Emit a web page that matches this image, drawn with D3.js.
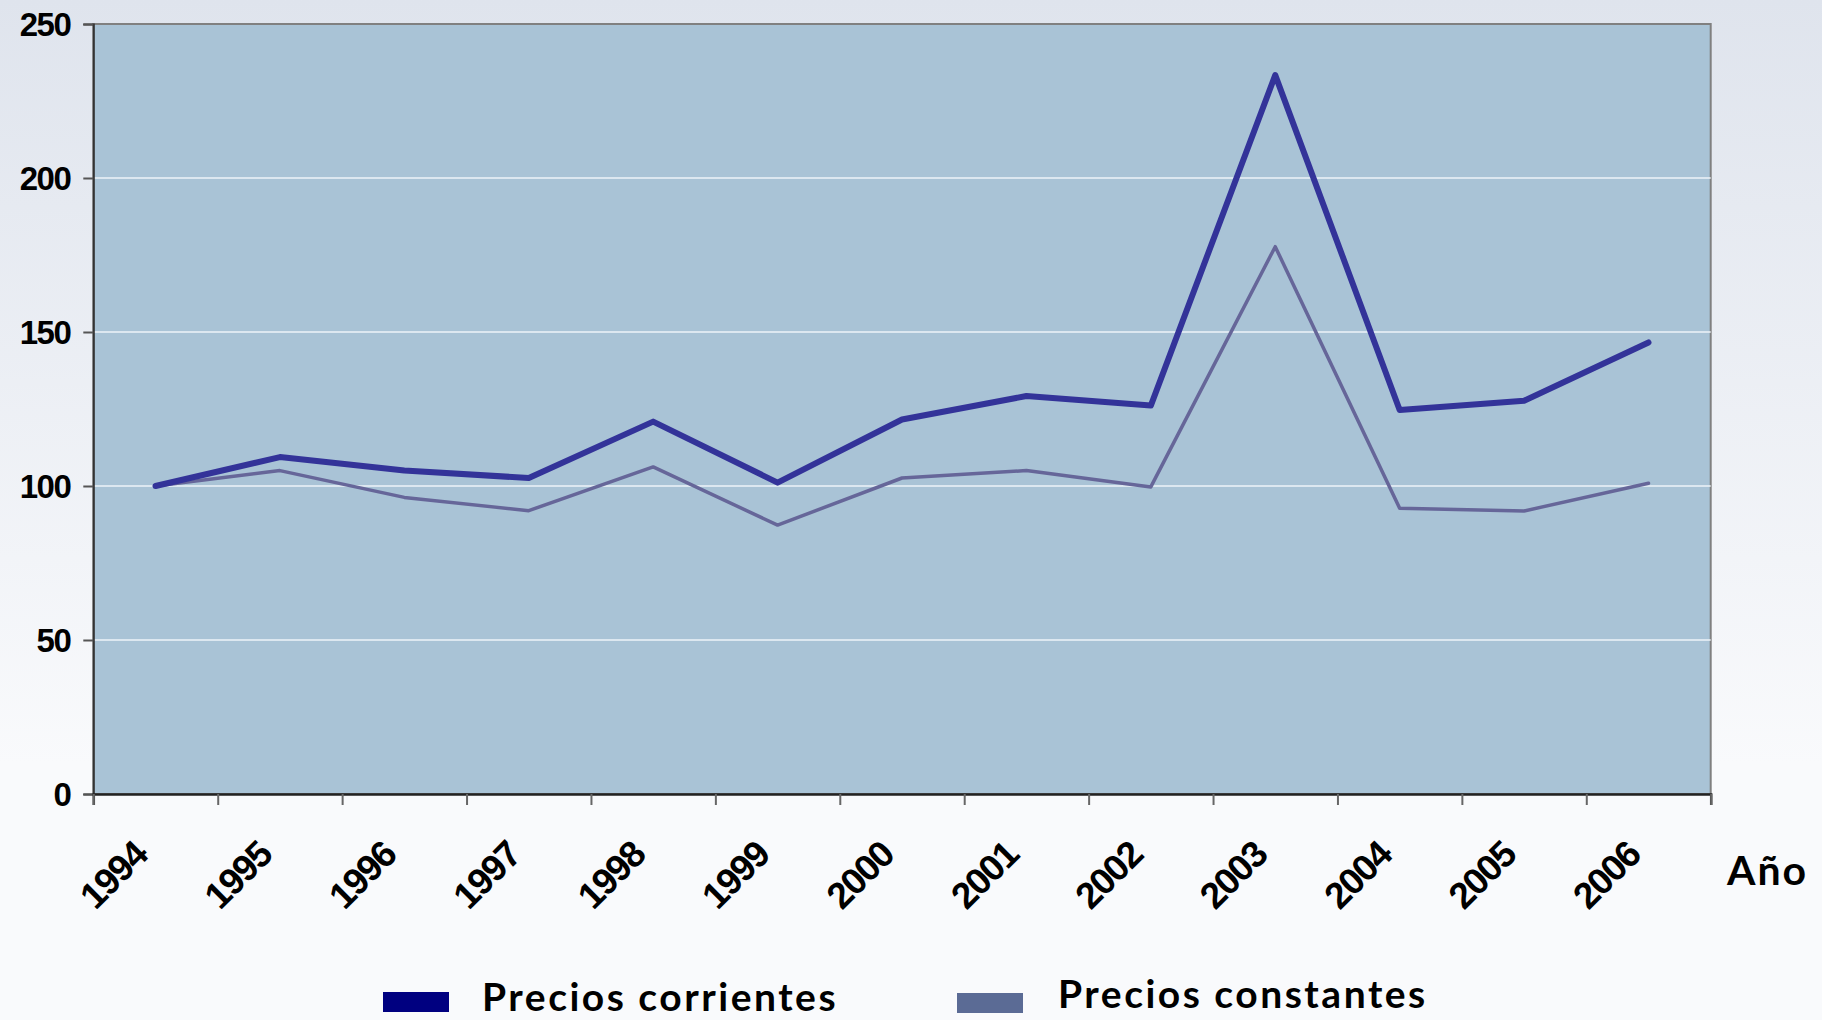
<!DOCTYPE html>
<html>
<head>
<meta charset="utf-8">
<script src="https://cdn.jsdelivr.net/npm/d3@7"></script>
<style>
  html, body { margin: 0; padding: 0; }
  body { width: 1822px; height: 1020px; overflow: hidden;
         background: linear-gradient(#dfe4ed, #f9fafc 75%); }
  .ylab text { font-family: "Liberation Sans", Arial, sans-serif; font-weight: bold; font-size: 33px; letter-spacing: -1.5px; fill: #000; }
  .xlab text { font-family: "Liberation Sans", Arial, sans-serif; font-weight: bold; font-size: 37px; letter-spacing: -1.5px; fill: #000; }
</style>
</head>
<body>
<svg id="chart"></svg>
<script>
// data
var years = ["1994","1995","1996","1997","1998","1999","2000","2001","2002","2003","2004","2005","2006"];
var corrientes = [100, 109.4, 105, 102.6, 120.9, 101.1, 121.6, 129.2, 126.1, 233.4, 124.7, 127.7, 146.6];
var constantes = [100, 105, 96.3, 92, 106.2, 87.3, 102.6, 105, 99.7, 177.7, 92.8, 91.9, 100.9];
var yTicks = [0, 50, 100, 150, 200, 250];
var seriesNames = ["Precios corrientes", "Precios constantes"];

var width = 1822, height = 1020;
var margin = {left: 93.3, right: 111.3, top: 24, bottom: 226};

var svg = d3.select("#chart").attr("width", width).attr("height", height);

var x = d3.scaleBand().domain(years).range([margin.left, width - margin.right]).padding(0);
var xi = d3.scaleLinear().domain([0, years.length]).range([margin.left, width - margin.right]);
var y = d3.scaleLinear().domain([0, 250]).range([height - margin.bottom, margin.top]);

// plot area
svg.append("rect")
  .attr("x", margin.left).attr("y", margin.top)
  .attr("width", width - margin.left - margin.right)
  .attr("height", height - margin.top - margin.bottom)
  .attr("fill", "#a9c3d6")
  .attr("stroke", "#808080").attr("stroke-width", 2);

// gridlines
svg.append("g").selectAll("line")
  .data(yTicks.filter(d => d > 0 && d < 250))
  .enter().append("line")
    .attr("x1", margin.left).attr("x2", width - margin.right)
    .attr("y1", d => y(d)).attr("y2", d => y(d))
    .attr("stroke", "#eef3f8").attr("stroke-width", 1.5);

// y axis
var yAxis = svg.append("g").attr("class", "ylab")
  .attr("transform", "translate(" + margin.left + ",0)")
  .call(d3.axisLeft(y).tickValues(yTicks).tickSize(10).tickPadding(13));
yAxis.select(".domain").attr("stroke", "#333").attr("stroke-width", 2);
yAxis.selectAll(".tick line").attr("stroke", "#555").attr("stroke-width", 2);
yAxis.selectAll("text").attr("dy", "0.36em");

// x axis tick marks at band edges
var xTickAxis = svg.append("g")
  .attr("transform", "translate(0," + y(0) + ")")
  .call(d3.axisBottom(xi).tickValues(d3.range(years.length + 1)).tickFormat("").tickSize(11));
xTickAxis.select(".domain").attr("stroke", "#222").attr("stroke-width", 2.5);
xTickAxis.selectAll(".tick line").attr("stroke", "#666").attr("stroke-width", 2);

// x labels
var xLab = svg.append("g").attr("class", "xlab")
  .attr("transform", "translate(0," + y(0) + ")")
  .call(d3.axisBottom(x).tickSize(0).tickPadding(0));
xLab.select(".domain").remove();
xLab.selectAll("text")
  .attr("text-anchor", "end")
  .attr("dy", 0)
  .attr("transform", "translate(-6,63) rotate(-45)");

svg.append("text")
  .attr("x", 1727).attr("y", 885)
  .style("font-family", "Lato, 'Open Sans', sans-serif")
  .style("font-weight", "bold").style("font-size", "41px")
  .style("letter-spacing", "2px")
  .text("Año");

// lines
var line = d3.line()
  .x((d, i) => x(years[i]) + x.bandwidth() / 2)
  .y(d => y(d));

svg.append("path").datum(constantes)
  .attr("d", line).attr("fill", "none")
  .attr("stroke", "#666699").attr("stroke-width", 3.5)
  .attr("stroke-linejoin", "round").attr("stroke-linecap", "round");

svg.append("path").datum(corrientes)
  .attr("d", line).attr("fill", "none")
  .attr("stroke", "#333399").attr("stroke-width", 6)
  .attr("stroke-linejoin", "round").attr("stroke-linecap", "round");

// legend
var legend = [
  {name: seriesNames[0], color: "#000080", sx: 383, sy: 992, tx: 482, ty: 1011},
  {name: seriesNames[1], color: "#5b6b95", sx: 957, sy: 993, tx: 1058, ty: 1008}
];
var lg = svg.append("g").selectAll("g").data(legend).enter().append("g");
lg.append("rect")
  .attr("x", d => d.sx).attr("y", d => d.sy)
  .attr("width", 66).attr("height", 20)
  .attr("fill", d => d.color);
lg.append("text")
  .attr("x", d => d.tx).attr("y", d => d.ty)
  .style("font-family", "Lato, 'Open Sans', sans-serif")
  .style("font-weight", "bold").style("font-size", "39px")
  .style("letter-spacing", "2.5px")
  .text(d => d.name);
</script>
</body>
</html>
